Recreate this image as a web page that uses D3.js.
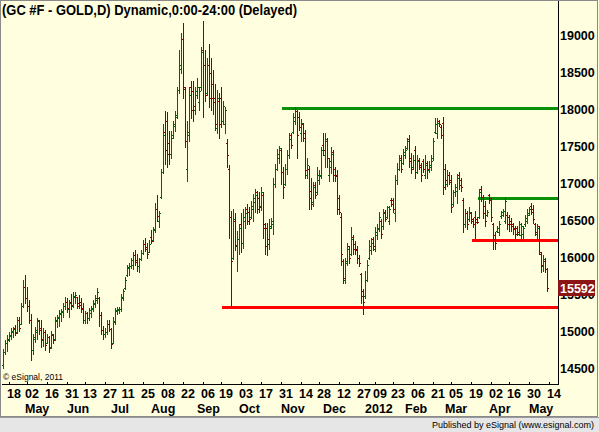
<!DOCTYPE html>
<html><head><meta charset="utf-8">
<script src="https://cdn.jsdelivr.net/npm/d3@7"></script>
<style>html,body{margin:0;padding:0;background:#fff;}svg{display:block;}</style>
</head><body>
<script>
// Daily OHLC, values as displayed by the chart (price x10)
const opens=[14550,14720,14840,14890,14940,15000,15050,14990,15150,15100,
15350,15600,15450,15350,15160,14750,14900,15000,15140,15050,
14890,15000,14840,14920,14790,14950,14900,15140,15180,15240,
15270,15340,15400,15300,15400,15350,15460,15460,15380,15400,
15320,15150,15250,15180,15250,15310,15370,15430,15450,15220,
15020,14970,15000,15100,15040,14850,15130,15280,15290,15300,
15450,15590,15760,15870,15880,15900,16030,15960,15880,15980,
16060,16180,16140,16080,16280,16230,16380,16650,16500,16820,
17160,17700,17850,17550,17400,17650,17780,17900,18260,18550,
18950,18280,17200,17650,18300,18250,18000,18200,18100,18300,
18800,18600,18220,18600,18500,18350,18150,17750,18120,18150,
17850,17800,17550,17200,16550,16000,16500,16150,16250,16450,
16200,16500,16650,16620,16550,16650,16750,16880,16800,16680,
16850,16450,16400,16180,16420,16450,17000,17200,17350,17450,
17150,17000,17200,17380,17650,17700,17850,17980,17900,17680,
17800,17680,17120,17200,16900,16750,16980,16880,17050,17120,
17520,17380,17580,17120,17220,17420,17200,17120,16800,16550,
15950,15700,15950,16150,16050,16280,16180,16120,16000,15780,
15550,15480,15700,16000,16100,16250,16120,16300,16380,16500,
16420,16620,16550,16500,16780,16780,16600,17050,17200,17350,
17280,17380,17480,17600,17350,17220,17450,17160,17320,17250,
17300,17120,17280,17180,17220,17350,17700,17680,17850,17760,
17820,17200,17000,17120,17050,16720,16880,16900,17120,17050,
16780,16450,16600,16520,16600,16520,16550,16520,16550,16920,
16820,16700,16580,16840,16800,16450,16300,16360,16350,16560,
16580,16500,16580,16550,16500,16450,16400,16400,16320,16300,
16320,16450,16500,16580,16700,16650,16450,16320,16420,16050,
15880,15950,15840];
const highs=[14770,14880,14950,14990,15050,15060,15090,15190,15200,15380,
15690,15770,15600,15420,15240,14970,15060,15180,15160,15150,
15050,15020,14970,14940,15010,14970,15190,15220,15290,15310,
15380,15460,15450,15420,15510,15530,15530,15470,15490,15450,
15380,15280,15270,15320,15350,15420,15490,15590,15470,15260,
15080,15050,15150,15150,15050,15190,15320,15330,15330,15510,
15580,15740,15900,15930,16000,16070,16100,16050,16000,16100,
16230,16270,16190,16230,16370,16410,16740,16840,16630,17200,
17810,17980,17970,17710,17710,17850,17980,18300,18800,19030,
19170,18300,17850,18300,18390,18390,18300,18430,18300,18840,
19200,18800,18700,18890,18700,18530,18350,18260,18220,18300,
18120,18030,17600,17250,16630,16650,16600,16360,16450,16600,
16650,16680,16720,16680,16770,16860,16930,16900,16880,16950,
16880,16460,16460,16520,16540,17080,17270,17470,17510,17480,
17220,17270,17450,17680,17680,17950,18030,17990,17960,17870,
17820,17720,17350,17240,17080,17020,17020,17220,17180,17490,
17680,17680,17620,17350,17490,17450,17220,17180,16840,16600,
15980,16000,16190,16160,16410,16300,16220,16150,16040,15790,
15580,15820,15960,16230,16270,16280,16410,16450,16610,16520,
16660,16640,16700,16700,16800,16800,17110,17280,17380,17380,
17470,17510,17620,17650,17410,17380,17510,17380,17350,17280,
17330,17380,17300,17300,17380,17620,17880,17880,17860,17790,
17900,17270,17180,17150,17110,16910,17000,17130,17150,17080,
16810,16660,16630,16680,16620,16540,16630,16550,16930,16970,
16840,16770,16640,16860,16810,16470,16340,16430,16500,16630,
16660,16800,16610,16570,16530,16470,16430,16430,16500,16470,
16430,16570,16660,16680,16730,16710,16470,16450,16430,16070,
16030,15990,15860];
const lows=[14510,14700,14740,14870,14900,14930,14950,14980,15010,15100,
15330,15380,15280,15120,14620,14700,14860,14900,14970,14790,
14800,14750,14840,14720,14780,14840,14880,15060,15080,15140,
15200,15300,15270,15200,15300,15330,15390,15320,15320,15260,
15120,15120,15120,15150,15200,15280,15330,15380,15080,14970,
14900,14920,14970,15010,14780,14840,15100,15240,15250,15280,
15420,15580,15750,15770,15860,15850,15900,15820,15810,15960,
16050,16090,16000,16080,16190,16220,16340,16500,16410,16810,
17140,17270,17220,17270,17350,17620,17710,17890,18220,18490,
18160,17490,17040,17580,17890,17850,17940,18160,17990,18260,
17900,18120,18200,18030,17990,17940,17720,17680,17620,17760,
17810,17680,17220,16270,15340,15980,16100,15820,16050,16080,
16130,16400,16450,16450,16540,16500,16610,16600,16620,16640,
16270,16050,16030,16120,16400,16320,16950,17180,17280,17000,
16800,16980,17130,17350,17480,17680,17810,17350,17720,17580,
17580,17080,17080,16660,16660,16700,16800,16860,17000,17080,
17380,17220,17220,17040,17140,17040,17040,16590,16590,15900,
15650,15650,15900,15920,16030,16050,16050,15920,15880,15380,
15230,15450,15680,15980,16050,16100,16090,16250,16360,16260,
16390,16500,16530,16450,16700,16610,16500,17000,17180,17150,
17260,17340,17470,17220,17140,17200,17080,17140,17200,17040,
17150,17080,17080,17160,17180,17320,17680,17620,17780,17610,
16860,16930,16960,16990,16610,16700,16830,16740,16930,16900,
16340,16410,16390,16500,16460,16410,16270,16460,16530,16770,
16530,16430,16560,16740,16500,16120,16120,16340,16300,16540,
16560,16460,16390,16360,16360,16320,16270,16300,16300,16230,
16270,16430,16460,16570,16590,16460,16300,16250,16050,15800,
15820,15800,15550];
const closes=[14720,14850,14900,14950,15010,15030,14980,15160,15050,15350,
15600,15450,15350,15160,14750,14920,15020,15150,15020,14900,
15000,14820,14930,14780,14960,14880,15150,15190,15250,15280,
15350,15400,15320,15380,15360,15480,15490,15350,15360,15300,
15160,15250,15180,15290,15320,15390,15450,15530,15220,15020,
14960,15000,15100,15040,14830,15140,15290,15300,15310,15460,
15550,15700,15860,15880,15960,16030,15940,15880,15980,16060,
16180,16120,16050,16180,16220,16370,16650,16560,16600,17150,
17650,17450,17400,17400,17620,17800,17920,18260,18600,18950,
18300,17580,17700,18200,18000,18050,18250,18300,18250,18780,
18600,18200,18600,18150,18150,18100,17800,18150,17800,17850,
18050,18000,17380,16550,15950,16520,16170,16250,16400,16200,
16550,16600,16500,16520,16700,16800,16850,16650,16700,16880,
16400,16150,16250,16400,16500,17000,17200,17400,17480,17150,
16950,17200,17380,17600,17520,17900,17980,17650,17760,17820,
17620,17180,17250,16800,16720,16950,16850,17120,17100,17450,
17450,17600,17350,17300,17400,17120,17100,16650,16620,16050,
15720,15920,16120,16000,16250,16120,16100,16000,15920,15480,
15400,15700,15900,16150,16200,16150,16350,16400,16550,16320,
16600,16520,16680,16650,16720,16650,17050,17200,17320,17200,
17420,17450,17580,17300,17200,17320,17150,17300,17220,17120,
17200,17250,17200,17250,17300,17580,17800,17820,17800,17650,
16950,17050,17120,17020,16680,16880,16950,17080,16980,16950,
16450,16600,16450,16620,16500,16450,16480,16480,16880,16820,
16600,16500,16620,16780,16550,16250,16200,16400,16450,16610,
16630,16760,16450,16450,16420,16380,16320,16350,16450,16420,
16400,16540,16600,16650,16620,16520,16340,16400,16080,15900,
15980,15840,15592];

// x-axis labels: bar index of each labelled day / month
const dayTickIdx=[3,12,22,32,41,51,60,70,80,90,100,109,119,129,139,149,158,168,178,186,195,205,215,224,234,244,253,263,273];
const dayTickLbl=["18","02","16","31","13","27","11","25","08","22","06","19","03","17","31","14","28","12","27","09","23","06","21","05","19","02","16","30","14"];
const monthIdx=[12,33,55,75,98,119,140,161,182,202,222,244,264];
const monthLbl=["May","Jun","Jul","Aug","Sep","Oct","Nov","Dec","2012","Feb","Mar","Apr","May"];
const yTicks=[19000,18500,18000,17500,17000,16500,16000,15500,15000,14500];

// horizontal support / resistance lines
const lineStart=[140,110,238,235];
const lineLevel=[18023,15335,16807,16230];
const lineColor=["#089108","#ff0000","#089108","#ff0000"];

const lastValue=15592;
const title="(GC #F - GOLD,D) Dynamic,0:00-24:00 (Delayed)";

const W=599,H=432;
const svg=d3.select("body").append("svg").attr("width",W).attr("height",H);
const bg="#ffffe0";
svg.append("rect").attr("width",W).attr("height",H).attr("fill",bg);

const N=closes.length;
const x=d3.scaleLinear().domain([0,N-1]).range([3,3+2*(N-1)]);
const y=d3.scaleLinear().domain([14500,19000]).range([368.5,35.5]);
const axisX=558, axisY=384;
const font="'Liberation Sans',Arial,sans-serif";

// frame
svg.append("rect").attr("x",0.5).attr("y",0.5).attr("width",597).attr("height",416)
  .attr("fill","none").attr("stroke","#8a8a8a");
// footer
svg.append("rect").attr("x",0).attr("y",417).attr("width",W).attr("height",15).attr("fill","#e6e6e6");
svg.append("line").attr("x1",0).attr("x2",W).attr("y1",417.5).attr("y2",417.5).attr("stroke","#9a9a9a");
svg.append("text").attr("x",594).attr("y",428).attr("text-anchor","end")
  .attr("font-family",font).attr("font-size",9).attr("fill","#000")
  .text("Published by eSignal (www.esignal.com)");

// title
svg.append("text").attr("x",2).attr("y",15).attr("font-family",font).attr("font-weight","bold")
  .attr("font-size",14).attr("fill","#000").attr("textLength",295).attr("lengthAdjust","spacingAndGlyphs")
  .text(title);

// lines (drawn under bars)
const g=svg.append("g").attr("shape-rendering","crispEdges");
lineStart.forEach((s,k)=>{
  const yy=Math.round(y(lineLevel[k]));
  g.append("rect").attr("x",x(s)-1).attr("y",yy-1).attr("width",axisX-(x(s)-1)).attr("height",3)
    .attr("fill",lineColor[k]);
});

// OHLC bars
const up="#006400", dn="#8b0000";
const bars=g.selectAll("g.bar").data(d3.range(N)).join("g").attr("class","bar")
  .attr("fill",i=>closes[i]>=opens[i]?up:dn);
bars.append("rect").attr("x",i=>x(i)).attr("y",i=>Math.round(y(highs[i])))
  .attr("width",1).attr("height",i=>Math.round(y(lows[i]))-Math.round(y(highs[i]))+1);
bars.append("rect").attr("x",i=>x(i)-1).attr("y",i=>Math.round(y(opens[i]))).attr("width",1).attr("height",1);
bars.append("rect").attr("x",i=>x(i)+1).attr("y",i=>Math.round(y(closes[i]))).attr("width",1).attr("height",1);

// axes lines
g.append("rect").attr("x",2).attr("y",axisY).attr("width",axisX-1).attr("height",1).attr("fill","#000");
g.append("rect").attr("x",axisX).attr("y",1).attr("width",1).attr("height",axisY).attr("fill","#000");

// y labels
svg.append("g").selectAll("text").data(yTicks).join("text")
  .attr("x",560).attr("y",d=>y(d)+4.5).attr("font-family",font).attr("font-weight","bold")
  .attr("font-size",12.5).attr("fill","#000").text(d=>d);

// last value box
const ly=Math.round(y(lastValue));
svg.append("rect").attr("x",558).attr("y",ly-8).attr("width",37).attr("height",16).attr("fill","#8b1414");
svg.append("text").attr("x",560).attr("y",ly+4.5).attr("font-family",font).attr("font-weight","bold")
  .attr("font-size",12.5).attr("fill","#fff").text(lastValue);

// x ticks and labels
g.selectAll("rect.xt").data(dayTickIdx).join("rect").attr("class","xt")
  .attr("x",d=>Math.round(x(d))).attr("y",axisY-2).attr("width",1).attr("height",2).attr("fill","#000");
svg.append("g").selectAll("text").data(dayTickIdx).join("text")
  .attr("x",d=>x(d)+5).attr("y",398).attr("text-anchor","middle").attr("font-family",font)
  .attr("font-weight","bold").attr("font-size",12.5).attr("fill","#000").text((d,k)=>dayTickLbl[k]);
svg.append("g").selectAll("text").data(monthIdx).join("text")
  .attr("x",d=>x(d)-2).attr("y",413).attr("font-family",font)
  .attr("font-weight","bold").attr("font-size",12.5).attr("fill","#000").text((d,k)=>monthLbl[k]);

// copyright
svg.append("text").attr("x",3).attr("y",380).attr("font-family",font).attr("font-size",8.5)
  .attr("fill","#000").text("\u00a9 eSignal, 2011");
</script>
</body></html>
